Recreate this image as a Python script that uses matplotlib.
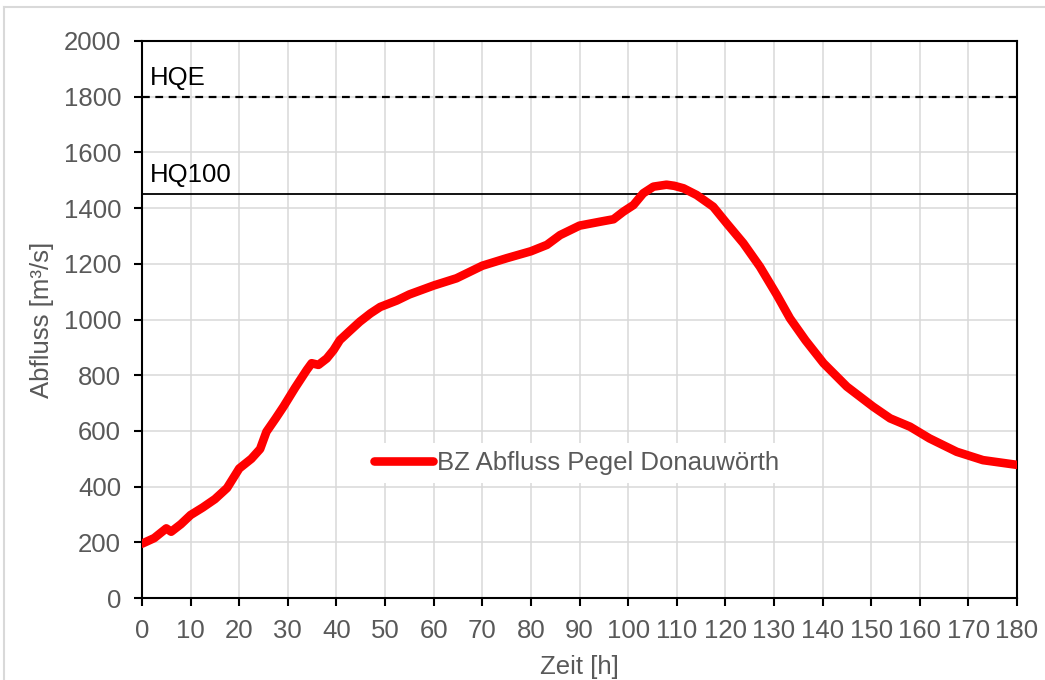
import matplotlib.pyplot as plt
from matplotlib.lines import Line2D

plt.rcParams['font.family'] = ['Liberation Sans', 'DejaVu Sans']

# Abflussganglinie
zeit = [0, 2.5, 5, 6, 8, 10, 12.5, 15, 17.5, 20, 22.5, 24.3, 25.6, 27.5,
        29.1, 31.5, 33.9, 34.9, 36.3, 38, 39.4, 40.7, 42.8, 44.8, 47, 49,
        52.4, 55, 60, 64.7, 70, 75, 80, 83.3, 86, 90, 94.2, 97, 99, 101.1,
        103.1, 105.2, 107.9, 109.5, 111.4, 114.1, 117.5, 120.3, 123.7, 127.1,
        130.6, 133.3, 136.5, 140.2, 145, 150.4, 153.9, 158, 162, 167.6, 173,
        180]
abfluss = [195, 215, 250, 238, 265, 298, 325, 355, 395, 465, 500, 535, 597,
           645, 687, 755, 819, 843, 837, 860, 890, 926, 960, 992, 1022, 1045,
           1068, 1090, 1122, 1148, 1193, 1220, 1245, 1268, 1303, 1337, 1351,
           1360, 1387, 1411, 1453, 1477, 1484, 1480, 1471, 1447, 1405, 1345,
           1274, 1190, 1088, 1004, 925, 843, 759, 687, 645, 615, 573, 525, 495,
           478]

hq100 = 1450
hqe = 1800
serie = 'BZ Abfluss Pegel Donauwörth'

grey = '#595959'
fs = 18.5

fig = plt.figure(figsize=(10.45, 6.8), dpi=100)
ax = fig.add_axes([142 / 1045, 1 - 598 / 680, 875 / 1045, 557 / 680])

ax.plot(zeit, abfluss, color='#ff0000', lw=6.2, solid_capstyle='round',
        solid_joinstyle='round', label=serie, zorder=3)
ax.axhline(hq100, color='black', lw=1.3, zorder=2)
ax.axhline(hqe, color='black', lw=1.6, ls=(0, (3.5, 2.5)), zorder=2)
ax.text(1.7, hqe + 25, 'HQE', fontsize=fs, color='black', va='bottom')
ax.text(1.7, hq100 + 25, 'HQ100', fontsize=fs, color='black', va='bottom')

ax.set_xlim(0, 180)
ax.set_ylim(0, 2000)
ax.set_xticks(range(0, 181, 10))
ax.set_yticks(range(0, 2001, 200))
ax.grid(True, color='#d9d9d9', lw=1.1, zorder=0)
ax.set_axisbelow(True)
for s in ax.spines.values():
    s.set_color('black')
    s.set_linewidth(1.5)
ax.tick_params(direction='out', length=6, width=1.5, color='black',
               labelcolor=grey, labelsize=fs, pad=9)

ax.set_xlabel('Zeit [h]', fontsize=fs, color=grey, labelpad=9)
ax.set_ylabel('Abfluss [m³/s]', fontsize=fs, color=grey, labelpad=7)

leg = ax.legend(loc='center left', bbox_to_anchor=(0.256, 0.2424),
                frameon=True, fancybox=False, edgecolor='none',
                facecolor='white', framealpha=1, fontsize=fs,
                handlelength=2.3, handletextpad=0.15, borderpad=0.3,
                borderaxespad=0)
for t in leg.get_texts():
    t.set_color(grey)

# chart area border
fig.add_artist(Line2D([4 / 1045, 1], [1 - 7 / 680] * 2, color='#d9d9d9', lw=1.5))
fig.add_artist(Line2D([4 / 1045] * 2, [0, 1 - 7 / 680], color='#d9d9d9', lw=1.5))

fig.savefig('out.png', dpi=100)
